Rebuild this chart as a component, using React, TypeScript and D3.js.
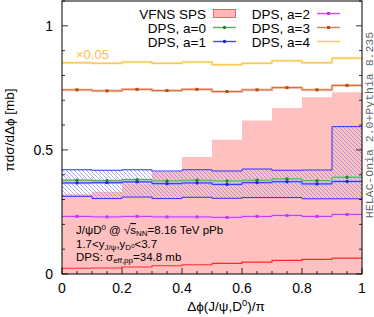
import * as d3 from 'd3';

// bin edges in dphi/pi
const phiEdges = [0, 0.1, 0.2, 0.3, 0.4, 0.5, 0.6, 0.7, 0.8, 0.9, 1.0];

// VFNS SPS: central line and band
const spsCentral = [0.023, 0.024, 0.028, 0.033, 0.037, 0.043, 0.048, 0.055, 0.059, 0.064];
const spsUpper = [0.321, 0.331, 0.364, 0.411, 0.471, 0.541, 0.618, 0.669, 0.712, 0.732];
const spsLower = [0, 0, 0, 0, 0, 0, 0, 0, 0, 0];

// DPS curves
const dpsA0 = [0.378, 0.376, 0.380, 0.375, 0.378, 0.375, 0.378, 0.383, 0.376, 0.390];
const dpsA1 = [0.367, 0.368, 0.371, 0.364, 0.367, 0.361, 0.368, 0.372, 0.363, 0.373];
const dpsA1Upper = [0.420, 0.418, 0.420, 0.415, 0.420, 0.415, 0.423, 0.418, 0.419, 0.594];
const dpsA1Lower = [0.313, 0.304, 0.310, 0.304, 0.309, 0.305, 0.308, 0.308, 0.303, 0.303];
const dpsA2 = [0.232, 0.230, 0.232, 0.230, 0.230, 0.228, 0.232, 0.236, 0.232, 0.240];
const dpsA3 = [0.742, 0.738, 0.744, 0.739, 0.744, 0.735, 0.742, 0.751, 0.742, 0.760];
const dpsA4Scaled = [0.851, 0.849, 0.854, 0.849, 0.854, 0.843, 0.849, 0.859, 0.851, 0.870];

const xTickLabels = [0, 0.2, 0.4, 0.6, 0.8, 1];
const yTickLabels = [0, 0.5, 1];

const FONT = 'Liberation Sans, Arial, Helvetica, sans-serif';

const x = d3.scaleLinear().domain([0, 1]).range([62, 362]);
const y = d3.scaleLinear().domain([0, 1.1]).range([274, 1]);

const stepPts = (vals: number[]) =>
  vals.flatMap((v, i) => [[phiEdges[i], v], [phiEdges[i + 1], v]] as [number, number][]);

const bandPts = (lo: number[], hi: number[]) =>
  lo.flatMap((v, i) => [
    { x: phiEdges[i], lo: v, hi: hi[i] },
    { x: phiEdges[i + 1], lo: v, hi: hi[i] },
  ]);

const stepLine = d3
  .line<[number, number]>()
  .x(d => x(d[0]))
  .y(d => y(d[1]));

const bandArea = d3
  .area<{ x: number; lo: number; hi: number }>()
  .x(d => x(d.x))
  .y0(d => y(d.lo))
  .y1(d => y(d.hi));

const centers = phiEdges.slice(0, -1).map((e, i) => (e + phiEdges[i + 1]) / 2);

function Series({ vals, color, light, marker, markerColor }: any) {
  const p = stepLine(stepPts(vals)) || '';
  return (
    <g>
      <path d={p} fill="none" stroke={light} strokeWidth={2.6} />
      <path d={p} fill="none" stroke={color} strokeWidth={1} />
      {marker === 'circle' &&
        centers.map((c, i) => (
          <circle key={i} cx={x(c)} cy={y(vals[i])} r={1.7} fill={markerColor} />
        ))}
      {marker === 'square' &&
        centers.map((c, i) => (
          <rect key={i} x={x(c) - 1.5} y={y(vals[i]) - 1.5} width={3} height={3} fill={markerColor} />
        ))}
    </g>
  );
}

function LegendSample({ x0, yy, color, light, marker, markerColor }: any) {
  const mid = x0 + 11.5;
  return (
    <g>
      <line x1={x0} x2={x0 + 23} y1={yy} y2={yy} stroke={light} strokeWidth={2} />
      <line x1={x0} x2={x0 + 23} y1={yy} y2={yy} stroke={color} strokeWidth={0.8} />
      {marker === 'circle' && <circle cx={mid} cy={yy} r={1.7} fill={markerColor} />}
      {marker === 'square' && <rect x={mid - 1.5} y={yy - 1.5} width={3} height={3} fill={markerColor} />}
    </g>
  );
}

export default function App() {
  const xMinor = d3.range(0, 1.0001, 0.05);
  const yMinor = d3.range(0, 1.1001, 0.1);
  const legRows = [18.5, 32.5, 46.5];
  const sampleY = [13.5, 27.5, 41.5];

  return (
    <svg width={374} height={317} style={{ display: 'block', position: 'absolute', left: 0, top: 0 }} fontFamily={FONT}>
      <defs>
        <clipPath id="plot">
          <rect x={62} y={1} width={300} height={273} />
        </clipPath>
        <pattern id="hatch" patternUnits="userSpaceOnUse" width={4} height={4}>
          <path d="M-1,-1 L5,5 M-1,3 L1,5 M3,-1 L5,1" stroke="#7c7cf0" strokeWidth={0.65} />
        </pattern>
      </defs>
      <rect width={374} height={317} fill="#fff" />

      <g clipPath="url(#plot)">
        {/* SPS band */}
        <path d={bandArea(bandPts(spsLower, spsUpper)) || ''} fill="#ffc0c0" />
        <path d={stepLine(stepPts(spsCentral)) || ''} fill="none" stroke="#ff2a2a" strokeWidth={1.1} />

        {/* DPS a=1 hatched band */}
        <path d={bandArea(bandPts(dpsA1Lower, dpsA1Upper)) || ''} fill="url(#hatch)" />
        <path d={stepLine(stepPts(dpsA1Upper)) || ''} fill="none" stroke="#3030ff" strokeWidth={1} />
        <path d={stepLine(stepPts(dpsA1Lower)) || ''} fill="none" stroke="#3030ff" strokeWidth={1} />

        <Series vals={dpsA2} color="#cc33ee" light="#eab0f6" marker="square" markerColor="#cc33ee" />
        <Series vals={dpsA0} color="#4aa04a" light="#b8deb8" marker="circle" markerColor="#1e8a1e" />
        <Series vals={dpsA1} color="#2a2aff" light="#b0b0ff" marker="circle" markerColor="#2222ee" />
        <Series vals={dpsA3} color="#cc6a3c" light="#f4c6ae" marker="square" markerColor="#c4460e" />
        <Series vals={dpsA4Scaled} color="#f8c040" light="#fde9b0" marker="none" />
      </g>

      {/* frame */}
      <rect x={62} y={1} width={300} height={273} fill="none" stroke="#000" strokeWidth={1} />

      {/* ticks */}
      {xMinor.map((t, i) => {
        const major = Math.abs(t * 5 - Math.round(t * 5)) < 1e-6;
        return <line key={'xt' + i} x1={x(t)} x2={x(t)} y1={274} y2={274 - (major ? 6 : 3)} stroke="#000" strokeWidth={0.8} />;
      })}
      {yMinor.map((t, i) => {
        const major = Math.abs(t * 2 - Math.round(t * 2)) < 1e-6;
        const len = major ? 6 : 3;
        return (
          <g key={'yt' + i}>
            <line x1={62} x2={62 + len} y1={y(t)} y2={y(t)} stroke="#000" strokeWidth={0.8} />
            <line x1={362} x2={362 - len} y1={y(t)} y2={y(t)} stroke="#000" strokeWidth={0.8} />
          </g>
        );
      })}

      {xTickLabels.map(t => (
        <text key={'xl' + t} x={x(t)} y={293} fontSize={14} textAnchor="middle" fill="#000">
          {t}
        </text>
      ))}
      {yTickLabels.map(t => (
        <text key={'yl' + t} x={53} y={y(t) + 5} fontSize={14} textAnchor="end" fill="#000">
          {t}
        </text>
      ))}

      {/* axis titles */}
      <text x={226} y={311} fontSize={13.5} textAnchor="middle">
        Δϕ(J/ψ,D<tspan dy={-5} fontSize={9.5}>0</tspan>
        <tspan dy={5}>)/π</tspan>
      </text>
      <text transform="translate(14,130) rotate(-90)" fontSize={13.5} textAnchor="middle">
        πdσ/dΔϕ [mb]
      </text>

      {/* legend */}
      <text x={206} y={legRows[0]} fontSize={13.5} textAnchor="end">VFNS SPS</text>
      <rect x={213.5} y={9.5} width={22} height={8} fill="#ffb8b8" stroke="#ff3c3c" strokeWidth={0.8} />
      <text x={206} y={legRows[1]} fontSize={13.5} textAnchor="end">DPS, a=0</text>
      <LegendSample x0={213} yy={sampleY[1]} color="#4aa04a" light="#b8deb8" marker="circle" markerColor="#1e8a1e" />
      <text x={206} y={legRows[2]} fontSize={13.5} textAnchor="end">DPS, a=1</text>
      <LegendSample x0={213} yy={sampleY[2]} color="#2a2aff" light="#b0b0ff" marker="circle" markerColor="#2222ee" />
      <text x={310} y={legRows[0]} fontSize={13.5} textAnchor="end">DPS, a=2</text>
      <LegendSample x0={317} yy={sampleY[0]} color="#cc33ee" light="#eab0f6" marker="square" markerColor="#cc33ee" />
      <text x={310} y={legRows[1]} fontSize={13.5} textAnchor="end">DPS, a=3</text>
      <LegendSample x0={317} yy={sampleY[1]} color="#cc6a3c" light="#f4c6ae" marker="square" markerColor="#c4460e" />
      <text x={310} y={legRows[2]} fontSize={13.5} textAnchor="end">DPS, a=4</text>
      <LegendSample x0={317} yy={sampleY[2]} color="#f8c040" light="#fde9b0" marker="none" />

      <text x={76} y={59} fontSize={13} fill="#f8c040">×0.05</text>

      {/* annotation */}
      <g fontSize={11.5} fill="#000">
        <text x={76} y={234}>
          J/ψD<tspan dy={-4} fontSize={8}>0</tspan>
          <tspan dy={4}> @ √</tspan>
          <tspan textDecoration="overline">s</tspan>
          <tspan dy={2} fontSize={8}>NN</tspan>
          <tspan dy={-2}>=8.16 TeV pPb</tspan>
        </text>
        <text x={76} y={247.5}>
          1.7&lt;y<tspan dy={2} fontSize={8}>J/ψ</tspan>
          <tspan dy={-2}>,y</tspan>
          <tspan dy={2} fontSize={8}>D</tspan>
          <tspan dy={-2} fontSize={6}>0</tspan>
          <tspan dy={0} fontSize={11.5}>&lt;3.7</tspan>
        </text>
        <text x={76} y={261}>
          DPS: σ<tspan dy={2} fontSize={8}>eff,pp</tspan>
          <tspan dy={-2}>=34.8 mb</tspan>
        </text>
      </g>

      <text
        transform="translate(372.5,125) rotate(-90)"
        fontSize={11.5}
        fontFamily="Liberation Mono, DejaVu Sans Mono, monospace"
        textAnchor="middle"
        fill="#666"
      >
        HELAC-Onia 2.0+Pythia 8.235
      </text>
    </svg>
  );
}
